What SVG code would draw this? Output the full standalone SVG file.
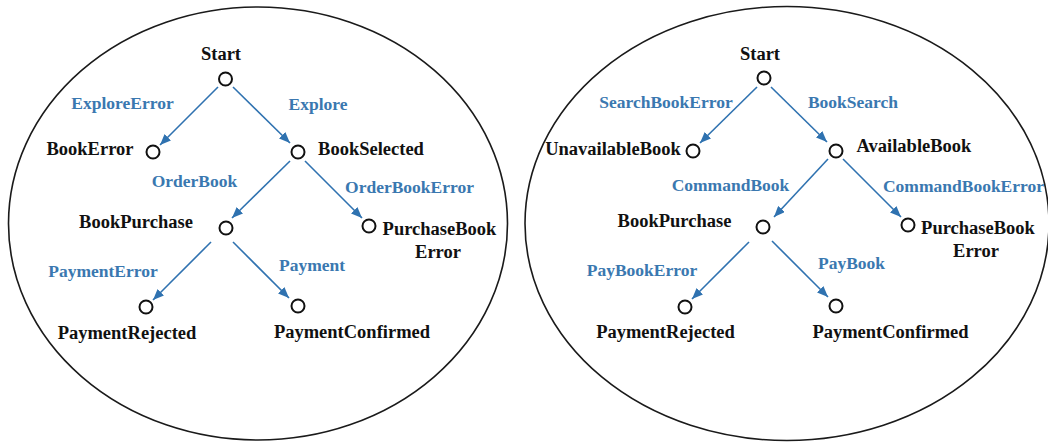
<svg xmlns="http://www.w3.org/2000/svg" width="1048" height="445" viewBox="0 0 1048 445">
<defs>
<marker id="ah" viewBox="0 0 11 9" refX="11" refY="4.5" markerWidth="11" markerHeight="9" markerUnits="userSpaceOnUse" orient="auto">
<path d="M0,0 L11,4.5 L0,9 Z" fill="#2f72b0"/>
</marker>
<style>
.frame{fill:none;stroke:#1a1a1a;stroke-width:1.6}
.st{fill:#fff;stroke:#111;stroke-width:2}
.lb{font-family:"Liberation Serif","Times New Roman",serif;font-weight:bold;font-size:18.5px;fill:#111;text-anchor:middle}
.el{font-family:"Liberation Serif","Times New Roman",serif;font-weight:bold;font-size:17.5px;fill:#3a78b0;text-anchor:middle}
.ed{stroke:#2f72b0;stroke-width:1.6;fill:none;marker-end:url(#ah)}
</style>
</defs>
<rect width="1048" height="445" fill="#fff"/>
<ellipse class="frame" cx="258" cy="223.5" rx="249.5" ry="216.5"/>
<ellipse class="frame" cx="787" cy="223.5" rx="262" ry="217"/>

<g id="connectors">
<line class="ed" x1="218" y1="87" x2="160" y2="145"/>
<line class="ed" x1="233" y1="87" x2="290" y2="143"/>
<line class="ed" x1="290" y1="161" x2="232" y2="218"/>
<line class="ed" x1="305" y1="161" x2="362" y2="218"/>
<line class="ed" x1="211" y1="242" x2="153" y2="300"/>
<line class="ed" x1="233" y1="242" x2="289" y2="298"/>
<line class="ed" x1="757" y1="87" x2="700" y2="143"/>
<line class="ed" x1="771" y1="87" x2="827" y2="142"/>
<line class="ed" x1="828" y1="159" x2="774" y2="217"/>
<line class="ed" x1="843" y1="159" x2="901" y2="217"/>
<line class="ed" x1="749" y1="242" x2="692" y2="299"/>
<line class="ed" x1="772" y1="241" x2="828" y2="297"/>
</g>

<g id="edge-labels">
<text class="el" x="122.5" y="109">ExploreError</text>
<text class="el" x="318" y="110">Explore</text>
<text class="el" x="194.5" y="187">OrderBook</text>
<text class="el" x="409.5" y="193">OrderBookError</text>
<text class="el" x="103" y="277">PaymentError</text>
<text class="el" x="312" y="271">Payment</text>
<text class="el" x="666" y="108">SearchBookError</text>
<text class="el" x="853" y="108">BookSearch</text>
<text class="el" x="730.5" y="191">CommandBook</text>
<text class="el" x="963.5" y="192">CommandBookError</text>
<text class="el" x="642" y="276">PayBookError</text>
<text class="el" x="851.5" y="269">PayBook</text>
</g>

<g id="L-start"><circle class="st" cx="225.5" cy="79" r="6.5"/><text class="lb" x="221" y="60">Start</text></g>
<g id="L-bookerror"><circle class="st" cx="153" cy="152" r="6.5"/><text class="lb" x="90" y="155">BookError</text></g>
<g id="L-bookselected"><circle class="st" cx="298" cy="152" r="6.5"/><text class="lb" x="371" y="155">BookSelected</text></g>
<g id="L-bookpurchase"><circle class="st" cx="226" cy="228" r="6.5"/><text class="lb" x="136" y="228">BookPurchase</text></g>
<g id="L-purchasebookerror"><circle class="st" cx="369" cy="226" r="6.5"/><text class="lb" x="439.5" y="235">PurchaseBook</text><text class="lb" x="438" y="258">Error</text></g>
<g id="L-paymentrejected"><circle class="st" cx="146" cy="307" r="6.5"/><text class="lb" x="127" y="339">PaymentRejected</text></g>
<g id="L-paymentconfirmed"><circle class="st" cx="298" cy="306" r="6.5"/><text class="lb" x="352" y="338">PaymentConfirmed</text></g>

<g id="R-start"><circle class="st" cx="764" cy="78" r="6.5"/><text class="lb" x="760" y="60">Start</text></g>
<g id="R-unavailablebook"><circle class="st" cx="693" cy="151" r="6.5"/><text class="lb" x="613" y="155">UnavailableBook</text></g>
<g id="R-availablebook"><circle class="st" cx="836" cy="151" r="6.5"/><text class="lb" x="914" y="152">AvailableBook</text></g>
<g id="R-bookpurchase"><circle class="st" cx="763" cy="227" r="6.5"/><text class="lb" x="674.5" y="227">BookPurchase</text></g>
<g id="R-purchasebookerror"><circle class="st" cx="908" cy="225" r="6.5"/><text class="lb" x="978" y="234">PurchaseBook</text><text class="lb" x="976" y="257">Error</text></g>
<g id="R-paymentrejected"><circle class="st" cx="685" cy="307" r="6.5"/><text class="lb" x="665.5" y="338">PaymentRejected</text></g>
<g id="R-paymentconfirmed"><circle class="st" cx="836" cy="306" r="6.5"/><text class="lb" x="890.5" y="338">PaymentConfirmed</text></g>
</svg>
